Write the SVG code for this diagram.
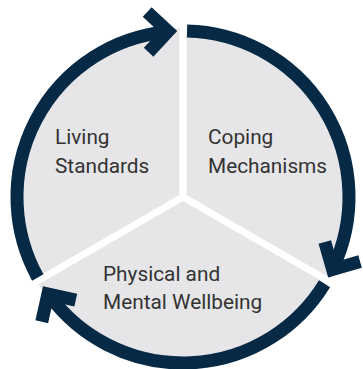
<svg xmlns="http://www.w3.org/2000/svg" width="363" height="369" viewBox="0 0 363 369">
  <style>
    .sector { fill: #e6e6e9; }
    .sep { stroke: #ffffff; stroke-width: 7; stroke-linecap: butt; }
    .ring { fill: none; stroke: #062a45; stroke-width: 13; stroke-linecap: butt; }
    .head { fill: #062a45; }
    .label { font-family: Roboto, "Liberation Sans", sans-serif; font-size: 20.8px; fill: #333333; }
  </style>
  <rect width="363" height="369" fill="#ffffff"/>
  <g id="node-coping">
    <path class="sector" d="M183,197 L183,28 A169,169 0 0 1 329.36,281.5 Z"/>
    <text class="label" x="208" y="144">Coping</text>
    <text class="label" x="208" y="173">Mechanisms</text>
  </g>
  <g id="node-wellbeing">
    <path class="sector" d="M183,197 L329.36,281.5 A169,169 0 0 1 36.64,281.5 Z"/>
    <text class="label" x="103" y="281">Physical and</text>
    <text class="label" x="103" y="309">Mental Wellbeing</text>
  </g>
  <g id="node-living">
    <path class="sector" d="M183,197 L36.64,281.5 A169,169 0 0 1 183,28 Z"/>
    <text class="label" x="55" y="144">Living</text>
    <text class="label" x="55" y="173">Standards</text>
  </g>
  <g id="separators">
    <line class="sep" x1="183" y1="197" x2="183" y2="20"/>
    <line class="sep" x1="183" y1="197" x2="336" y2="285.3"/>
    <line class="sep" x1="183" y1="197" x2="30" y2="285.3"/>
  </g>
  <g id="connectors">
    <path class="ring" d="M187.06,31.05 A166,166 0 0 1 333.57,266.89"/>
    <polygon class="head" points="328.19,277.48 361.83,267.83 358.25,255.33 337.10,261.40 331.04,240.26 318.54,243.84"/>
    <path class="ring" d="M324.54,283.74 A166,166 0 0 1 49.73,295.97"/>
    <polygon class="head" points="43.00,286.19 35.42,320.36 48.11,323.17 52.88,301.70 74.36,306.46 77.17,293.77"/>
    <path class="ring" d="M37.81,277.48 A166,166 0 0 1 165.36,31.94"/>
    <polygon class="head" points="177.21,31.10 151.61,7.23 142.74,16.74 158.84,31.74 143.83,47.83 153.34,56.70"/>
  </g>
</svg>
